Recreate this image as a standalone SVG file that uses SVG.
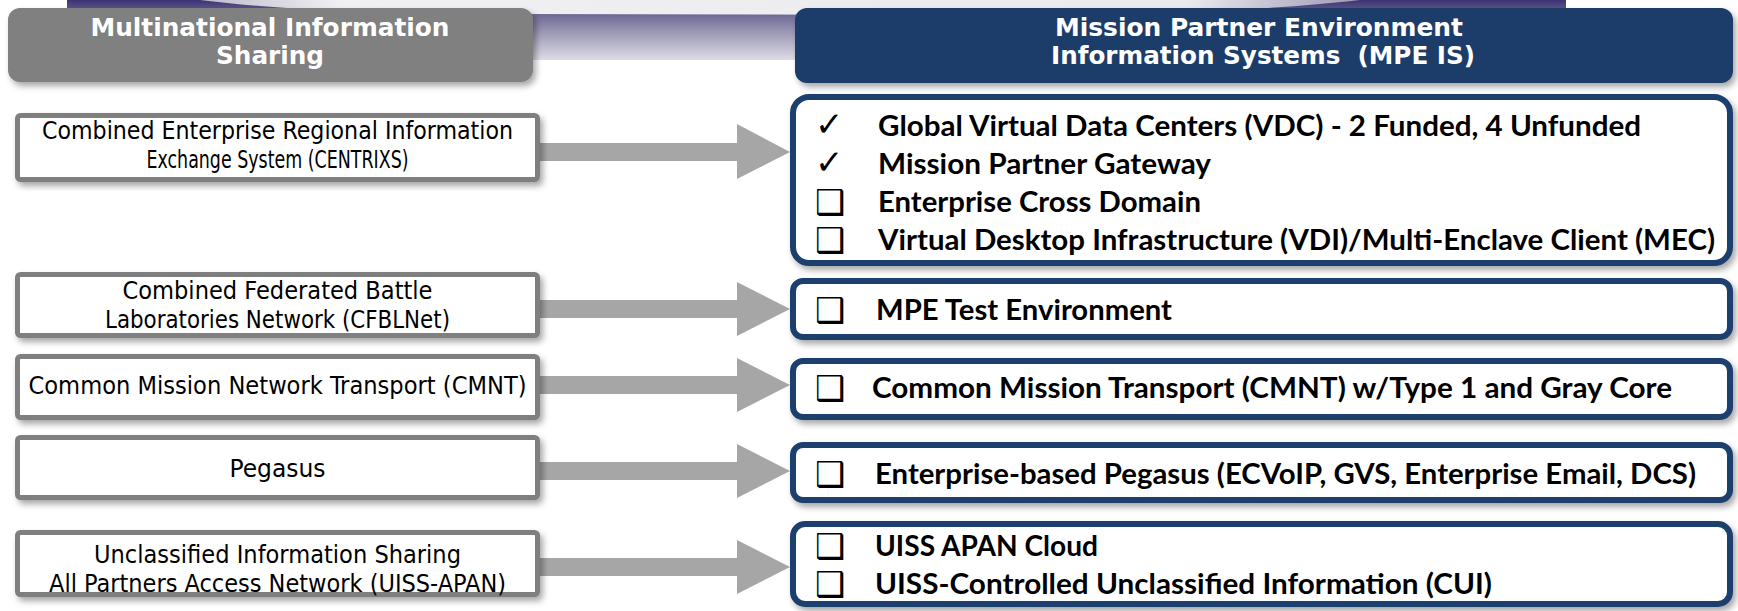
<svg xmlns="http://www.w3.org/2000/svg" width="1738" height="611" viewBox="0 0 1738 611">
<defs>
  <linearGradient id="band" x1="0" y1="0" x2="0" y2="1">
    <stop offset="0" stop-color="#3b3373"/>
    <stop offset="0.22" stop-color="#6a6592"/>
    <stop offset="0.45" stop-color="#8f8bab"/>
    <stop offset="1" stop-color="#dddce6"/>
  </linearGradient>
  <linearGradient id="swoosh" x1="0" y1="0" x2="1" y2="0">
    <stop offset="0" stop-color="#bdbacd"/>
    <stop offset="0.12" stop-color="#f0f0f2"/>
    <stop offset="0.85" stop-color="#ebebee"/>
    <stop offset="1" stop-color="#9e9ab6"/>
  </linearGradient>
  <filter id="sh" x="-5%" y="-20%" width="110%" height="150%">
    <feDropShadow dx="3" dy="4" stdDeviation="3" flood-color="#000" flood-opacity="0.35"/>
  </filter>
  <style>
    .hdrL{fill:#808080}
    .hdrR{fill:#1b3d6b}
    .htxt{fill:#fff;font-family:"Liberation Sans Narrow","DejaVu Sans Condensed","Liberation Sans",sans-serif;font-stretch:condensed;font-weight:bold;font-size:24px;text-anchor:middle}
    .lbox{fill:#fff;stroke:#7f7f7f;stroke-width:5}
    .rbox{fill:#fff;stroke:#1f3f6d;stroke-width:6}
    .ltxt{fill:#000;font-family:"Liberation Sans Narrow","DejaVu Sans Condensed","Liberation Sans",sans-serif;font-stretch:condensed;font-size:24px;text-anchor:middle}
    .rtxt{fill:#000;font-family:Lato,"Liberation Sans",sans-serif;font-weight:bold;font-size:28px}
    .chk{fill:#000;font-family:"DejaVu Sans",sans-serif;font-size:34px}
    .sym{fill:#000;font-family:"DejaVu Sans",sans-serif;font-size:34px}
    .arr{fill:#a6a6a6}
  </style>
</defs>
<rect width="1738" height="611" fill="#fff"/>
<g id="banner">
  <rect x="67" y="0" width="1499" height="60" fill="url(#band)"/>
  <path d="M200,0 C280,10 380,14 520,14 L1000,15 C1160,15 1270,10 1360,0 Z" fill="url(#swoosh)"/>
</g>
<g id="connectors">
  <polygon class="arr" points="540,143 737,143 737,124 790,152 737,179 737,161 540,161"/>
  <polygon class="arr" points="540,300 737,300 737,282 790,309 737,336 737,318 540,318"/>
  <polygon class="arr" points="540,376 737,376 737,358 790,385 737,412 737,394 540,394"/>
  <polygon class="arr" points="540,462 737,462 737,444 790,471 737,498 737,480 540,480"/>
  <polygon class="arr" points="540,558 737,558 737,540 790,567 737,594 737,576 540,576"/>
</g>
<g id="header-left">
  <rect class="hdrL" x="8" y="8" width="525" height="74" rx="12" filter="url(#sh)"/>
  <text class="htxt" x="270" y="36" textLength="359" lengthAdjust="spacingAndGlyphs">Multinational Information</text>
  <text class="htxt" x="270" y="64" textLength="108" lengthAdjust="spacingAndGlyphs">Sharing</text>
</g>
<g id="header-right">
  <rect class="hdrR" x="795" y="8" width="938" height="75" rx="12" filter="url(#sh)"/>
  <text class="htxt" x="1259" y="36" textLength="408" lengthAdjust="spacingAndGlyphs">Mission Partner Environment</text>
  <text class="htxt" x="1263" y="64" textLength="424" lengthAdjust="spacingAndGlyphs" xml:space="preserve">Information Systems  (MPE IS)</text>
</g>
<g id="centrixs">
  <rect class="lbox" x="17.5" y="115.5" width="520" height="64" rx="3" filter="url(#sh)"/>
  <text class="ltxt" x="277.5" y="139" textLength="471" lengthAdjust="spacingAndGlyphs">Combined Enterprise Regional Information</text>
  <text class="ltxt" x="277.5" y="168" textLength="262" lengthAdjust="spacingAndGlyphs">Exchange System (CENTRIXS)</text>
</g>
<g id="cfblnet">
  <rect class="lbox" x="17.5" y="274.5" width="520" height="61" rx="3" filter="url(#sh)"/>
  <text class="ltxt" x="277.5" y="299" textLength="310" lengthAdjust="spacingAndGlyphs">Combined Federated Battle</text>
  <text class="ltxt" x="277.5" y="328" textLength="345" lengthAdjust="spacingAndGlyphs">Laboratories Network (CFBLNet)</text>
</g>
<g id="cmnt">
  <rect class="lbox" x="17.5" y="356.5" width="520" height="61" rx="3" filter="url(#sh)"/>
  <text class="ltxt" x="277.5" y="394" textLength="498" lengthAdjust="spacingAndGlyphs">Common Mission Network Transport (CMNT)</text>
</g>
<g id="pegasus">
  <rect class="lbox" x="17.5" y="437.5" width="520" height="60" rx="3" filter="url(#sh)"/>
  <text class="ltxt" x="277.5" y="477" textLength="96" lengthAdjust="spacingAndGlyphs">Pegasus</text>
</g>
<g id="uiss-apan">
  <rect class="lbox" x="17.5" y="532.5" width="520" height="62" rx="3" filter="url(#sh)"/>
  <text class="ltxt" x="277.5" y="563" textLength="367" lengthAdjust="spacingAndGlyphs">Unclassified Information Sharing</text>
  <text class="ltxt" x="277.5" y="592" textLength="457" lengthAdjust="spacingAndGlyphs">All Partners Access Network (UISS-APAN)</text>
</g>
<g id="mpe-core">
  <rect class="rbox" x="793" y="97" width="937" height="166" rx="16" filter="url(#sh)"/>
  <text class="chk" x="815" y="136">✓</text>
  <text class="rtxt" x="878" y="136" textLength="763" lengthAdjust="spacingAndGlyphs">Global Virtual Data Centers (VDC) - 2 Funded, 4 Unfunded</text>
  <text class="chk" x="815" y="174">✓</text>
  <text class="rtxt" x="878" y="174" textLength="333" lengthAdjust="spacingAndGlyphs">Mission Partner Gateway</text>
  <text class="sym" x="815" y="214">❑</text>
  <text class="rtxt" x="878" y="212" textLength="323" lengthAdjust="spacingAndGlyphs">Enterprise Cross Domain</text>
  <text class="sym" x="815" y="252">❑</text>
  <text class="rtxt" x="878" y="250" textLength="837" lengthAdjust="spacingAndGlyphs">Virtual Desktop Infrastructure (VDI)/Multi-Enclave Client (MEC)</text>
</g>
<g id="mpe-test">
  <rect class="rbox" x="793" y="281" width="937" height="56" rx="10" filter="url(#sh)"/>
  <text class="sym" x="815" y="322">❑</text>
  <text class="rtxt" x="876" y="320" textLength="296" lengthAdjust="spacingAndGlyphs">MPE Test Environment</text>
</g>
<g id="mpe-cmt">
  <rect class="rbox" x="793" y="361" width="937" height="56" rx="10" filter="url(#sh)"/>
  <text class="sym" x="815" y="400">❑</text>
  <text class="rtxt" x="872" y="398" textLength="800" lengthAdjust="spacingAndGlyphs">Common Mission Transport (CMNT) w/Type 1 and Gray Core</text>
</g>
<g id="mpe-pegasus">
  <rect class="rbox" x="793" y="445" width="937" height="55" rx="10" filter="url(#sh)"/>
  <text class="sym" x="815" y="486">❑</text>
  <text class="rtxt" x="875" y="484" textLength="821" lengthAdjust="spacingAndGlyphs">Enterprise-based Pegasus (ECVoIP, GVS, Enterprise Email, DCS)</text>
</g>
<g id="mpe-uiss">
  <rect class="rbox" x="793" y="524" width="937" height="80" rx="12" filter="url(#sh)"/>
  <text class="sym" x="815" y="558">❑</text>
  <text class="rtxt" x="875" y="556" textLength="223" lengthAdjust="spacingAndGlyphs">UISS APAN Cloud</text>
  <text class="sym" x="815" y="596">❑</text>
  <text class="rtxt" x="875" y="594" textLength="617" lengthAdjust="spacingAndGlyphs">UISS-Controlled Unclassified Information (CUI)</text>
</g>
</svg>
